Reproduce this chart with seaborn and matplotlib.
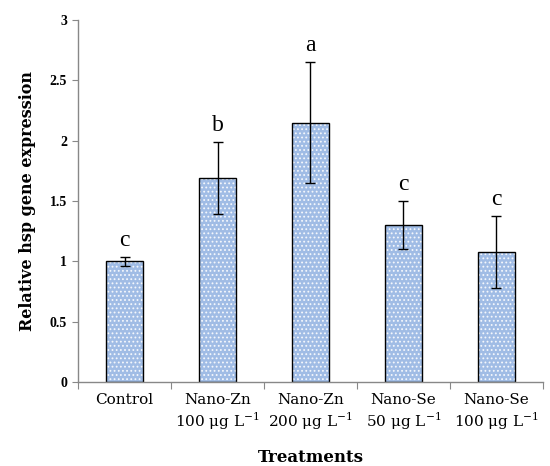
import matplotlib
matplotlib.use("Agg")
import matplotlib.pyplot as plt
import seaborn as sns
import pandas as pd
import numpy as np

categories = ["Control", "Nano-Zn\n100 μg L$^{-1}$", "Nano-Zn\n200 μg L$^{-1}$",
              "Nano-Se\n50 μg L$^{-1}$", "Nano-Se\n100 μg L$^{-1}$"]
values = [1.00, 1.69, 2.15, 1.30, 1.08]
errors = [0.04, 0.30, 0.50, 0.20, 0.30]
letters = ["c", "b", "a", "c", "c"]

sns.set_theme(style="white")
plt.rcParams["font.family"] = ["Liberation Serif", "DejaVu Serif"]
plt.rcParams["mathtext.fontset"] = "custom"
plt.rcParams["mathtext.rm"] = "DejaVu Serif"
plt.rcParams["hatch.linewidth"] = 0.8
plt.rcParams["text.color"] = "black"
plt.rcParams["axes.labelcolor"] = "black"
plt.rcParams["xtick.color"] = "black"
plt.rcParams["ytick.color"] = "black"

df = pd.DataFrame({"treatment": categories, "value": values})

fig = plt.figure(figsize=(5.5, 4.66), dpi=100)
ax = fig.add_axes([0.142, 0.180, 0.845, 0.777])

bar_color = "#A0BCE5"
sns.barplot(data=df, x="treatment", y="value", color=bar_color, saturation=1,
            width=0.4, errorbar=None, edgecolor="#F4F7FC", linewidth=0, ax=ax)
for p in ax.patches:
    p.set_hatch("....")
sns.barplot(data=df, x="treatment", y="value", fill=False, width=0.4,
            errorbar=None, edgecolor="black", linewidth=1.0, ax=ax)

x = np.arange(len(categories))
ax.errorbar(x, values, yerr=errors, fmt="none", ecolor="black", elinewidth=1.0,
            capsize=3.5, capthick=1.0)
for xi, v, e, l in zip(x, values, errors, letters):
    ax.text(xi, v + e + 0.05, l, ha="center", va="bottom", fontsize=17,
            family="Liberation Serif", color="black")

ax.set_xlim(-0.5, 4.5)
ax.set_ylim(0, 3)
ax.set_yticks([0, 0.5, 1, 1.5, 2, 2.5, 3])
ax.set_yticklabels(["0", "0.5", "1", "1.5", "2", "2.5", "3"], fontweight="bold", fontsize=10)
ax.tick_params(axis="y", left=True, length=4, width=0.8, color="#888888", pad=4)
ax.set_xticks(x)
ax.set_xticklabels(categories, fontsize=11, family="DejaVu Serif")
ax.tick_params(axis="x", bottom=False, length=0, pad=8)
ax.set_xticks(np.arange(-0.5, 5, 1), minor=True)
ax.tick_params(axis="x", which="minor", bottom=True, length=5, width=0.8, color="#888888")

for s in ["top", "right"]:
    ax.spines[s].set_visible(False)
for s in ["left", "bottom"]:
    ax.spines[s].set_color("#888888")
    ax.spines[s].set_linewidth(1.0)

ax.set_xlabel("Treatments", fontsize=12, fontweight="bold", family="DejaVu Serif", labelpad=12)
ax.set_ylabel("Relative hsp gene expression", fontsize=11.5, fontweight="bold",
              family="DejaVu Serif", labelpad=10)

fig.savefig("out.png", dpi=100)
